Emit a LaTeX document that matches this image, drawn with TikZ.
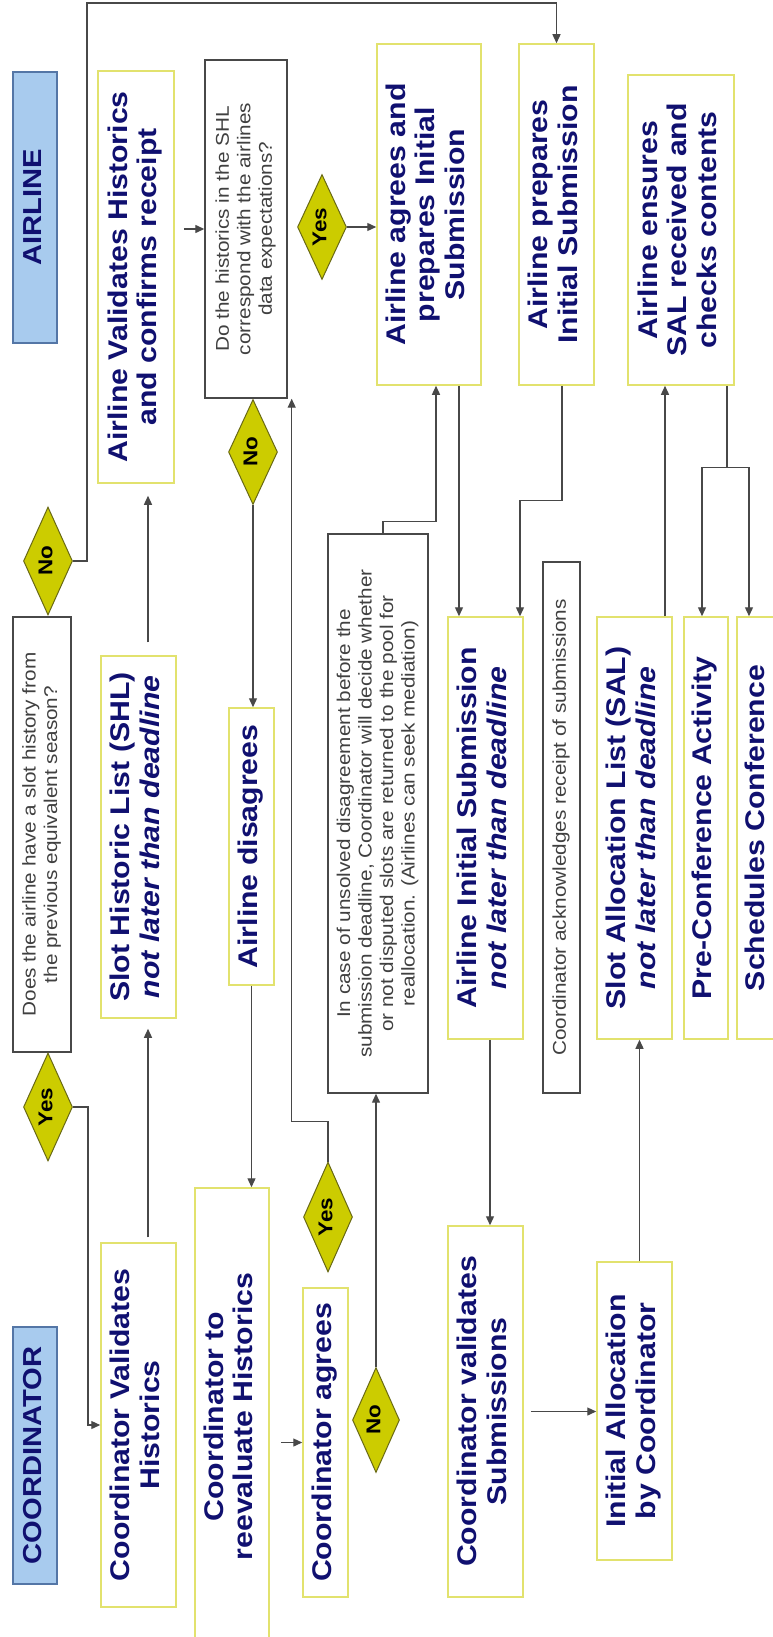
\documentclass[tikz,border=0pt]{standalone}
\usepackage{fontspec}
\setmainfont{Liberation Sans}
\usepackage{graphicx}
\usetikzlibrary{shapes.geometric, arrows.meta, calc}
\definecolor{laneblue}{RGB}{168, 203, 238}
\definecolor{laneedge}{RGB}{84, 118, 166}
\definecolor{stepedge}{RGB}{226, 226, 110}
\definecolor{stepnavy}{RGB}{16, 16, 112}
\definecolor{choicefill}{RGB}{204, 204, 0}
\definecolor{choiceedge}{RGB}{105, 105, 20}
\definecolor{lineclr}{RGB}{72, 72, 72}
\newcommand{\rtext}[1]{\scalebox{1.12}[1]{\begin{tabular}{@{}c@{}}#1\end{tabular}}}

\begin{document}
\begin{tikzpicture}[
  x=1pt, y=-1pt,
  boxsize/.style 2 args={minimum height=#1pt, minimum width=#2pt},
  lane/.style={draw=laneedge, line width=1.2pt, fill=laneblue, rotate=90, inner sep=0pt, text=stepnavy, font=\fontsize{26}{30}\selectfont\bfseries},
  stepbox/.style={draw=stepedge, line width=1.5pt, fill=white, rotate=90, inner sep=0pt, text=stepnavy, font=\fontsize{27}{29.5}\selectfont\bfseries},
  askbox/.style={draw=lineclr, line width=1.4pt, fill=white, rotate=90, inner sep=0pt, text=black!75, font=\fontsize{18.5}{21.5}\selectfont},
  choice/.style={diamond, aspect=2, draw=choiceedge, line width=1pt, fill=choicefill, rotate=90, inner sep=0pt, minimum width=105pt, minimum height=49pt, font=\fontsize{20}{22}\selectfont\bfseries},
  flow/.style={draw=lineclr, line width=1.3pt, -{Triangle[length=9pt, width=8pt]}},
  link/.style={draw=lineclr, line width=1.3pt}
]
  \fill[white] (0,0) rectangle (773,1637);
  \useasboundingbox (0,0) rectangle (773,1637);

  \node[lane, boxsize={44}{271}] (airline) at (35,207.5) {\rtext{AIRLINE}};
  \node[lane, boxsize={44}{257}] (coord) at (35,1455.5) {\rtext{COORDINATOR}};

  \node[askbox, boxsize={58}{435}] (hist) at (42,834.5) {\rtext{Does the airline have a slot history from\\the previous equivalent season?}};
  \node[choice, minimum width=108pt] (histno) at (48,561) {\rtext{No}};
  \node[choice, minimum width=108pt] (histyes) at (48,1107) {\rtext{Yes}};

  \node[stepbox, boxsize={76}{412}] (valA) at (136,277) {\rtext{Airline Validates Historics\\and confirms receipt}};
  \node[stepbox, boxsize={75}{362}] (shl) at (138.5,837) {\rtext{Slot Historic List (SHL)\\\textit{not later than deadline}}};
  \node[stepbox, boxsize={75}{364}] (valC) at (138.5,1425) {\rtext{Coordinator Validates\\Historics}};

  \node[askbox, boxsize={82}{338}] (q2) at (246,229) {\rtext{Do the historics in the SHL\\correspond with the airlines\\data expectations?}};
  \node[choice] (no2) at (253,452) {\rtext{No}};
  \node[stepbox, boxsize={45}{277}] (disagree) at (251.5,846.5) {\rtext{Airline disagrees}};
  \node[stepbox, boxsize={74}{457}] (reeval) at (232,1416.5) {\rtext{Coordinator to\\reevaluate Historics}};

  \node[choice] (yes2) at (322,227) {\rtext{Yes}};
  \node[askbox, boxsize={100}{559}] (note) at (378,813.5) {\rtext{In case of unsolved disagreement before the\\submission deadline, Coordinator will decide whether\\or not disputed slots are returned to the pool for\\reallocation. (Airlines can seek mediation)}};
  \node[choice, minimum width=110pt] (yes3) at (328,1217) {\rtext{Yes}};
  \node[choice, minimum height=47pt] (no3) at (376,1420) {\rtext{No}};
  \node[stepbox, boxsize={45}{309}] (agreeC) at (325.5,1442.5) {\rtext{Coordinator agrees}};

  \node[stepbox, boxsize={104}{341}] (agreeA) at (429,214.5) {\rtext{Airline agrees and\\prepares Initial\\Submission}};
  \node[stepbox, boxsize={75}{341}] (prepA) at (556.5,214.5) {\rtext{Airline prepares\\Initial Submission}};
  \node[stepbox, boxsize={106}{310}] (ensure) at (681,230) {\rtext{Airline ensures\\SAL received and\\checks contents}};

  \node[stepbox, boxsize={75}{422}] (initsub) at (485.5,828) {\rtext{Airline Initial Submission\\\textit{not later than deadline}}};
  \node[askbox, boxsize={37}{531}] (ack) at (561.5,827.5) {\rtext{Coordinator acknowledges receipt of submissions}};
  \node[stepbox, boxsize={75}{422}] (sal) at (634.5,828) {\rtext{Slot Allocation List (SAL)\\\textit{not later than deadline}}};
  \node[stepbox, boxsize={44}{422}] (precon) at (706,828) {\rtext{Pre-Conference Activity}};
  \node[stepbox, boxsize={44}{422}] (sched) at (759,828) {\rtext{Schedules Conference}};

  \node[stepbox, boxsize={75}{371}] (valS) at (485.5,1411.5) {\rtext{Coordinator validates\\Submissions}};
  \node[stepbox, boxsize={75}{298}] (alloc) at (634.5,1411) {\rtext{Initial Allocation\\by Coordinator}};

  % rotated nodes: east = page top, west = page bottom, north = page left, south = page right
  \coordinate (topline) at (0,3);
  \draw[flow] (histno.south) -- ++(14,0) |- (topline -| prepA.east) -- (prepA.east);
  \draw[flow] (histyes.south) -- ++(15,0) |- (valC.north);
  \draw[flow, shorten <=5pt, shorten >=10pt] ($(valC.east)+(9.5,0)$) coordinate (u1) -- (u1 |- shl.west);
  \draw[flow, shorten <=13pt, shorten >=12pt] ($(shl.east)+(9.5,0)$) coordinate (u2) -- (u2 |- valA.west);
  \draw[flow, shorten <=9pt] (valA.south |- q2.north) -- (q2.north);
  \draw[flow] (no2.west) -- (no2.west |- disagree.east);
  \draw[flow] (disagree.west) -- (disagree.west |- reeval.east);
  \draw[flow, shorten <=11pt] (reeval.south |- agreeC.north) -- (agreeC.north);
  \draw[flow] (yes3.east) -- ++(0,-40) -| ($(q2.south west)+(4,0)$);
  \draw[flow] (no3.east) -- (no3.east |- note.west);
  \draw[flow] ($(note.east)+(5,0)$) -- ++(0,-12) -| ($(agreeA.west)+(7,0)$);
  \draw[flow] (yes2.south) -- (yes2.south -| agreeA.north);
  \draw[flow] ($(agreeA.west)+(30,0)$) coordinate (u3) -- (u3 |- initsub.east);
  \draw[flow] ($(prepA.west)+(5.5,0)$) -- ++(0,115) -| ($(initsub.east)+(34.5,0)$);
  \draw[flow] ($(initsub.west)+(4.5,0)$) coordinate (u4) -- (u4 |- valS.east);
  \draw[flow, shorten <=7pt] (valS.south) -- (valS.south -| alloc.north);
  \draw[flow] ($(alloc.east)+(5,0)$) coordinate (u5) -- (u5 |- sal.west);
  \draw[flow] ($(sal.east)+(30.5,0)$) coordinate (u6) -- (u6 |- ensure.west);
  \draw[link] ($(ensure.west)+(46,0)$) -- ++(0,82) coordinate (split);
  \draw[flow] (split) -| ($(precon.east)+(-4,0)$);
  \draw[flow] (split) -| ($(sched.east)+(-10,0)$);
\end{tikzpicture}
\end{document}
